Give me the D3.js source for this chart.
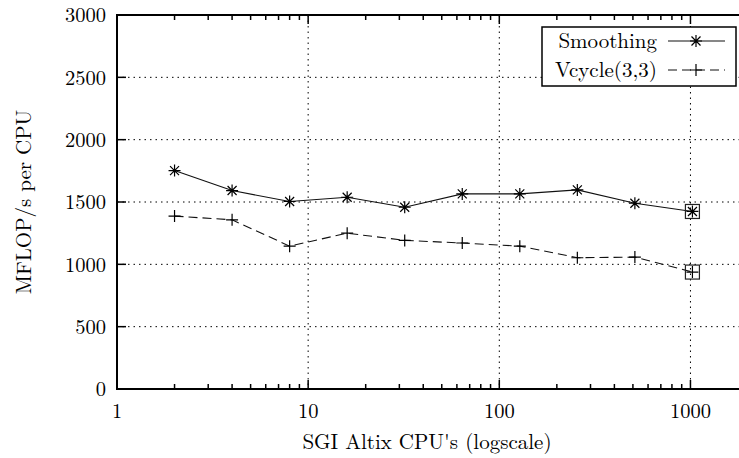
<!DOCTYPE html>
<html>
<head>
<meta charset="utf-8">
<title>MFLOP/s per CPU</title>
<script src="https://cdn.jsdelivr.net/npm/d3@7"></script>
<style>
  body { margin: 0; background: #fff; }
  text { font-family: "Latin Modern Roman", "Liberation Serif", serif; fill: #000; }
</style>
</head>
<body>
<script>
var cpus = [2, 4, 8, 16, 32, 64, 128, 256, 512, 1024];
var smoothing = [1752, 1592, 1504, 1538, 1458, 1565, 1565, 1597, 1490, 1424];
var vcycle = [1387, 1357, 1146, 1250, 1192, 1171, 1146, 1053, 1058, 938];
var xTicks = [1, 10, 100, 1000];
var yTicks = [0, 500, 1000, 1500, 2000, 2500, 3000];
var seriesNames = ["Smoothing", "Vcycle(3,3)"];

var W = 739, H = 458;
var pL = 117, pT = 15, pB = 389, pR = 748;

var svg = d3.select("body").append("svg")
    .attr("width", W)
    .attr("height", H);

var x = d3.scaleLog().domain([1, 2000]).range([pL, pR]);
var y = d3.scaleLinear().domain([0, 3000]).range([pB, pT]);

// grid
var grid = svg.append("g")
    .attr("stroke", "#000")
    .attr("stroke-width", 1)
    .attr("stroke-dasharray", "1.5,4");
grid.selectAll("line.gy")
    .data(yTicks.filter(function(d) { return d > 0 && d < 3000; }))
    .enter().append("line")
    .attr("x1", pL).attr("x2", pR)
    .attr("y1", function(d) { return y(d); })
    .attr("y2", function(d) { return y(d); });
grid.selectAll("line.gx")
    .data(xTicks.filter(function(d) { return d > 1; }))
    .enter().append("line")
    .attr("y1", pT).attr("y2", pB)
    .attr("x1", function(d) { return x(d); })
    .attr("x2", function(d) { return x(d); });

// minor x ticks
var minor = [];
[1, 10, 100, 1000].forEach(function(dec) {
  for (var k = 2; k <= 9; k++) if (dec * k <= 2000) minor.push(dec * k);
});

var ticks = svg.append("g").attr("stroke", "#000").attr("stroke-width", 1.5);
ticks.selectAll("line.mb").data(minor).enter().append("line")
    .attr("x1", function(d) { return x(d); }).attr("x2", function(d) { return x(d); })
    .attr("y1", pB).attr("y2", pB - 5);
ticks.selectAll("line.mt").data(minor).enter().append("line")
    .attr("x1", function(d) { return x(d); }).attr("x2", function(d) { return x(d); })
    .attr("y1", pT).attr("y2", pT + 5);
ticks.selectAll("line.Mb").data(xTicks).enter().append("line")
    .attr("x1", function(d) { return x(d); }).attr("x2", function(d) { return x(d); })
    .attr("y1", pB).attr("y2", pB - 9);
ticks.selectAll("line.Mt").data(xTicks).enter().append("line")
    .attr("x1", function(d) { return x(d); }).attr("x2", function(d) { return x(d); })
    .attr("y1", pT).attr("y2", pT + 9);
ticks.selectAll("line.yl").data(yTicks).enter().append("line")
    .attr("x1", pL).attr("x2", pL + 9)
    .attr("y1", function(d) { return y(d); }).attr("y2", function(d) { return y(d); });

// frame
svg.append("rect")
    .attr("x", pL).attr("y", pT)
    .attr("width", pR - pL).attr("height", pB - pT)
    .attr("fill", "none").attr("stroke", "#000").attr("stroke-width", 2);

// tick labels
svg.selectAll("text.yt").data(yTicks).enter().append("text")
    .attr("x", pL - 11)
    .attr("y", function(d) { return y(d); })
    .attr("dy", "0.35em")
    .attr("text-anchor", "end")
    .attr("font-size", 20.5)
    .text(function(d) { return d; });
svg.selectAll("text.xt").data(xTicks).enter().append("text")
    .attr("x", function(d) { return x(d); })
    .attr("y", pB + 29)
    .attr("text-anchor", "middle")
    .attr("font-size", 20.5)
    .text(function(d) { return d; });

svg.append("text")
    .attr("x", 427)
    .attr("y", 449)
    .attr("text-anchor", "middle")
    .attr("font-size", 21)
    .text("SGI Altix CPU's (logscale)");
svg.append("text")
    .attr("transform", "translate(31,202) rotate(-90)")
    .attr("text-anchor", "middle")
    .attr("font-size", 21)
    .text("MFLOP/s per CPU");

// markers
function star(g, cx, cy, r) {
  var p = "M" + (cx - r) + "," + cy + "h" + (2 * r) +
          "M" + cx + "," + (cy - r) + "v" + (2 * r) +
          "M" + (cx - r * 0.75) + "," + (cy - r * 0.75) + "l" + (1.5 * r) + "," + (1.5 * r) +
          "M" + (cx - r * 0.75) + "," + (cy + r * 0.75) + "l" + (1.5 * r) + "," + (-1.5 * r);
  g.append("path").attr("d", p).attr("stroke", "#000").attr("stroke-width", 1.2).attr("fill", "none");
}
function plus(g, cx, cy, r) {
  var p = "M" + (cx - r) + "," + cy + "h" + (2 * r) +
          "M" + cx + "," + (cy - r) + "v" + (2 * r);
  g.append("path").attr("d", p).attr("stroke", "#000").attr("stroke-width", 1.2).attr("fill", "none");
}

var line = d3.line()
    .x(function(d) { return x(d[0]); })
    .y(function(d) { return y(d[1]); });

var series = [
  { values: smoothing, dash: null, mark: star },
  { values: vcycle, dash: "9,5", mark: plus }
];

series.forEach(function(s) {
  var pts = cpus.map(function(c, i) { return [c, s.values[i]]; });
  var g = svg.append("g");
  g.append("path")
      .attr("d", line(pts))
      .attr("fill", "none")
      .attr("stroke", "#111")
      .attr("stroke-width", 1.1)
      .attr("stroke-dasharray", s.dash);
  pts.forEach(function(p) { s.mark(g, x(p[0]), y(p[1]), 6); });
  var last = pts[pts.length - 1];
  g.append("rect")
      .attr("x", x(last[0]) - 7).attr("y", y(last[1]) - 7)
      .attr("width", 14).attr("height", 14)
      .attr("fill", "none").attr("stroke", "#222").attr("stroke-width", 1.2);
});

// legend
var lg = svg.append("g");
lg.append("rect")
    .attr("x", 542).attr("y", 27).attr("width", 194).attr("height", 59)
    .attr("fill", "#fff").attr("stroke", "#000").attr("stroke-width", 1.5);
seriesNames.forEach(function(name, i) {
  var yy = 41 + i * 29;
  lg.append("text")
      .attr("x", 657).attr("y", yy).attr("dy", "0.35em")
      .attr("text-anchor", "end")
      .attr("font-size", 21)
      .text(name);
  lg.append("line")
      .attr("x1", 668).attr("x2", 725).attr("y1", yy).attr("y2", yy)
      .attr("stroke", "#111").attr("stroke-width", 1.1)
      .attr("stroke-dasharray", series[i].dash);
  series[i].mark(lg, 696, yy, 6);
});
</script>
</body>
</html>
